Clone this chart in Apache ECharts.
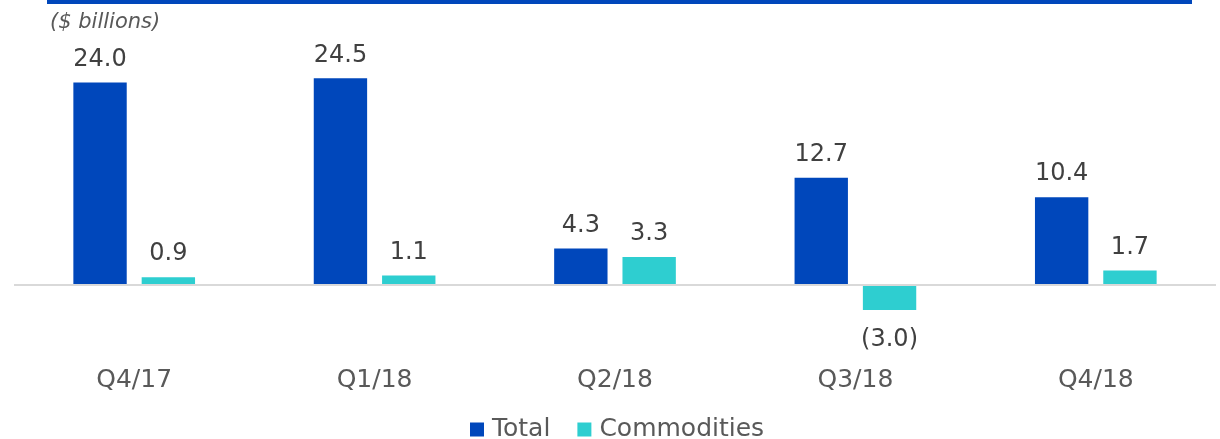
<!DOCTYPE html>
<html>
<head>
<meta charset="utf-8">
<script src="https://cdn.jsdelivr.net/npm/echarts@6/dist/echarts.min.js"></script>
<style>
  html, body { margin: 0; padding: 0; background: #ffffff; }
  #chart { width: 1220px; height: 439px; }
</style>
</head>
<body>
<div id="chart"></div>
<script>
// Quarterly figures, $ billions
const quarters = ['Q4/17', 'Q1/18', 'Q2/18', 'Q3/18', 'Q4/18'];
const totalValues = [24.0, 24.5, 4.3, 12.7, 10.4];
const commodityValues = [0.9, 1.1, 3.3, -3.0, 1.7];
const seriesNames = ['Total', 'Commodities'];

const BLUE = '#0047BB';
const TEAL = '#2ECED0';
const TEXT = '#404040';
const FONT = 'DejaVu Sans';

// Negative values are shown in parentheses
function fmt(v) {
  return v < 0 ? '(' + Math.abs(v).toFixed(1) + ')' : v.toFixed(1);
}

function toItems(values) {
  return values.map(v => v < 0
    ? { value: v, label: { position: 'bottom', distance: 18 } }
    : { value: v });
}

const labelStyle = {
  show: true,
  position: 'top',
  distance: 11,
  color: TEXT,
  fontFamily: FONT,
  fontSize: 24,
  lineHeight: 24,
  formatter: p => fmt(p.value)
};

const chart = echarts.init(document.getElementById('chart'), null, { renderer: 'canvas' });

chart.setOption({
  animation: false,
  backgroundColor: '#ffffff',
  graphic: [
    {
      type: 'rect',
      left: 47,
      top: 0,
      shape: { width: 1145, height: 4 },
      style: { fill: BLUE },
      silent: true
    },
    {
      type: 'text',
      left: 50,
      top: 12,
      style: {
        text: '($ billions)',
        fill: '#595959',
        font: 'italic 21px "DejaVu Sans"'
      },
      silent: true
    }
  ],
  grid: { left: 14, right: 4, top: 32, bottom: 70, containLabel: false },
  legend: {
    data: seriesNames,
    left: 465,
    top: 412,
    icon: 'rect',
    itemWidth: 14,
    itemHeight: 14,
    itemGap: 27,
    textStyle: { color: '#595959', fontFamily: FONT, fontSize: 25, padding: [0, 0, 0, 3] }
  },
  xAxis: {
    type: 'category',
    data: quarters,
    position: 'bottom',
    axisLine: { show: false },
    axisTick: { show: false },
    axisLabel: {
      color: '#595959',
      fontFamily: FONT,
      fontSize: 25,
      lineHeight: 20,
      margin: 1
    }
  },
  yAxis: {
    type: 'value',
    min: -10,
    max: 30,
    interval: 10,
    show: false,
    splitLine: { show: false }
  },
  series: [
    {
      name: seriesNames[0],
      type: 'bar',
      data: toItems(totalValues),
      barWidth: '22.2%',
      barGap: '28%',
      itemStyle: { color: BLUE },
      label: labelStyle,
      markLine: {
        silent: true,
        symbol: 'none',
        label: { show: false },
        lineStyle: { color: '#D9D9D9', width: 2, type: 'solid' },
        data: [{ yAxis: 0 }]
      }
    },
    {
      name: seriesNames[1],
      type: 'bar',
      data: toItems(commodityValues),
      barWidth: '22.2%',
      barGap: '28%',
      itemStyle: { color: TEAL },
      label: labelStyle
    }
  ]
});
</script>
</body>
</html>
